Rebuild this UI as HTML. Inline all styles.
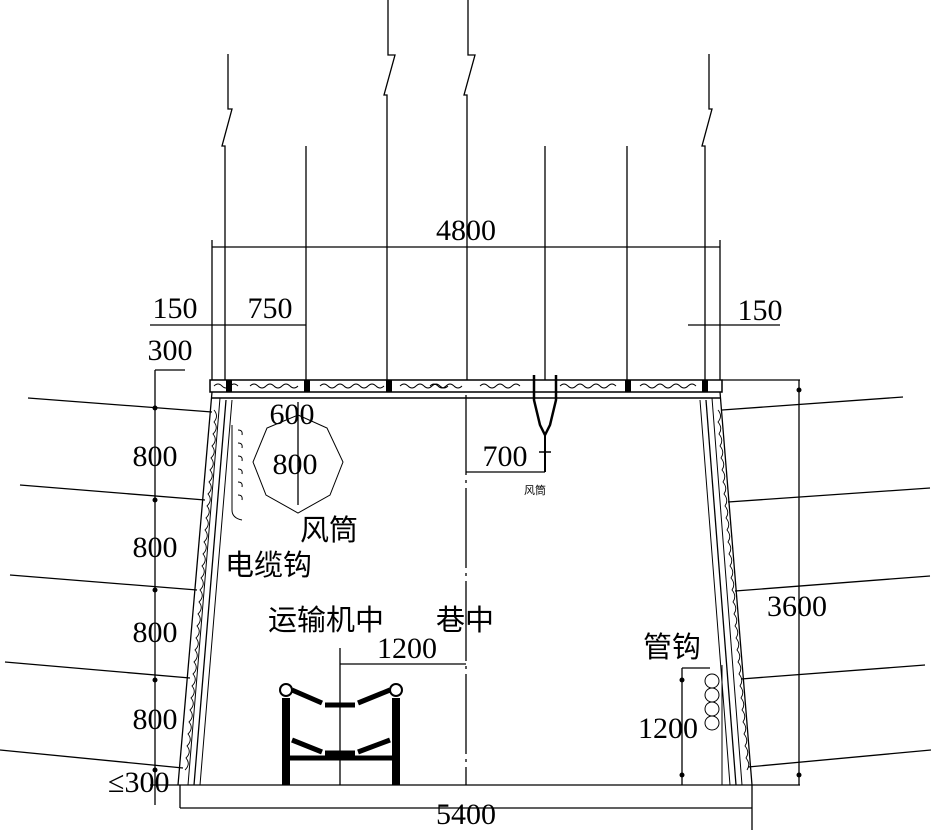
<!DOCTYPE html>
<html><head><meta charset="utf-8"><style>
html,body{margin:0;padding:0;background:#fff;}
svg{display:block;}
text{font-family:"Liberation Serif","Noto Serif CJK SC",serif;fill:#000;}
.cn{font-family:"Liberation Sans","Noto Sans CJK SC",sans-serif;}
</style></head><body>
<svg width="931" height="836" viewBox="0 0 931 836" xmlns="http://www.w3.org/2000/svg">
<g stroke="#000" stroke-width="1.3" fill="none">
<path d="M228 54 V109 h4 l-10 37 h3 V380"/>
<path d="M388 0 V55 h7 l-11 40 h3 V380"/>
<path d="M468 0 V55 h7 l-11 40 h3 V380"/>
<path d="M709 54 V109 h3 l-10 37 h3 V380"/>
<line x1="306" y1="146" x2="306" y2="380"/>
<line x1="545" y1="146" x2="545" y2="380"/>
<line x1="627" y1="146" x2="627" y2="380"/>
<rect x="210" y="380" width="512" height="12" stroke-width="1.5"/>
<line x1="216" y1="392" x2="716" y2="392" stroke-width="1"/>
<line x1="212" y1="398" x2="720" y2="398" stroke-width="1.5"/>
<path d="M214 386 q4 -4 8 0 q4 4 8 0 q4 -4 8 0 M250 386 q4 -4 8 0 q4 4 8 0 q4 -4 8 0 q4 4 8 0 q4 -4 8 0 q4 4 8 0 M320 386 q4 -4 8 0 q4 4 8 0 q4 -4 8 0 q4 4 8 0 q4 -4 8 0 q4 4 8 0 q4 -4 8 0 q4 4 8 0 M400 386 q4 -4 8 0 q4 4 8 0 q4 -4 8 0 q4 4 8 0 q4 -4 8 0 q4 4 8 0 M430 386 q4 -4 8 0 q4 4 8 0 q4 -4 8 0 q4 4 8 0 M480 386 q4 -4 8 0 q4 4 8 0 q4 -4 8 0 q4 4 8 0 q4 -4 8 0 M560 386 q4 -4 8 0 q4 4 8 0 q4 -4 8 0 q4 4 8 0 q4 -4 8 0 q4 4 8 0 q4 -4 8 0 M640 386 q4 -4 8 0 q4 4 8 0 q4 -4 8 0 q4 4 8 0 q4 -4 8 0 q4 4 8 0 q4 -4 8 0" stroke-width="0.9"/>
<path d="M212 392 L178 785"/>
<path d="M220 398 L188 785" stroke-width="1"/>
<path d="M226 400 L194 785"/>
<path d="M232 400 L200 785" stroke-width="1"/>
<path d="M214 410 q5 6 0 12 q5 6 -1 12 q5 6 -1 12 q5 6 -1 12 q5 6 -1 12 q5 6 -1 12 q5 6 -1 12 q5 6 -1 12 q5 6 -1 12 q5 6 -1 12 q5 6 -1 12 q5 6 -1 12 q5 6 -1 12 q5 6 -1 12 q5 6 -1 12 q5 6 -1 12 q5 6 -1 12 q5 6 -1 12 q5 6 -1 12 q5 6 -1 12 q5 6 -1 12 q5 6 -1 12 q5 6 -1 12 q5 6 -1 12 q5 6 -1 12 q5 6 -1 12 q5 6 -1 12 q5 6 -1 12 q5 6 -1 12 q5 6 -1 12" stroke-width="0.9"/>
<path d="M720 392 L752 785"/>
<path d="M712 398 L742 785" stroke-width="1"/>
<path d="M706 400 L736 785"/>
<path d="M700 400 L730 785" stroke-width="1"/>
<path d="M718 410 q5 6 0 12 q5 6 1 12 q5 6 1 12 q5 6 1 12 q5 6 1 12 q5 6 1 12 q5 6 1 12 q5 6 1 12 q5 6 1 12 q5 6 1 12 q5 6 1 12 q5 6 1 12 q5 6 1 12 q5 6 1 12 q5 6 1 12 q5 6 1 12 q5 6 1 12 q5 6 1 12 q5 6 1 12 q5 6 1 12 q5 6 1 12 q5 6 1 12 q5 6 1 12 q5 6 1 12 q5 6 1 12 q5 6 1 12 q5 6 1 12 q5 6 1 12 q5 6 1 12 q5 6 1 12" stroke-width="0.9"/>
<line x1="150" y1="785" x2="752" y2="785"/>
<line x1="28" y1="398" x2="212" y2="412"/>
<line x1="20" y1="485" x2="205" y2="500"/>
<line x1="10" y1="575" x2="197" y2="590"/>
<line x1="5" y1="662" x2="190" y2="678"/>
<line x1="0" y1="750" x2="183" y2="768"/>
<line x1="903" y1="397" x2="722" y2="410"/>
<line x1="930" y1="488" x2="728" y2="502"/>
<line x1="930" y1="576" x2="735" y2="591"/>
<line x1="925" y1="665" x2="741" y2="679"/>
<line x1="931" y1="750" x2="748" y2="767"/>
<line x1="155" y1="370" x2="155" y2="805"/>
<path d="M155 370 H185" />
<line x1="180" y1="785" x2="180" y2="808"/>
<line x1="180" y1="808" x2="752" y2="808"/>
<line x1="752" y1="785" x2="752" y2="830"/>
<line x1="722" y1="380" x2="800" y2="380"/>
<line x1="799" y1="380" x2="799" y2="785"/>
<line x1="752" y1="785" x2="800" y2="785"/>
<line x1="212" y1="247" x2="720" y2="247"/>
<line x1="212" y1="240" x2="212" y2="380"/>
<line x1="720" y1="240" x2="720" y2="380"/>
<line x1="150" y1="325" x2="306" y2="325"/>
<line x1="688" y1="325" x2="780" y2="325"/>
<line x1="466" y1="395" x2="466" y2="785" stroke-dasharray="80 5 3 5"/>
<line x1="466" y1="472" x2="545" y2="472"/>
<path d="M534 375 V400 l6 25 l5 10 l5 -10 l6 -25 V375" stroke-width="2.5"/>
<line x1="545" y1="435" x2="545" y2="472" stroke-width="2"/>
<line x1="539" y1="452" x2="551" y2="452" stroke-width="1.5"/>
<polygon points="298,415 327,428 343,462 330,495 298,513 266,495 253,462 267,428" stroke-width="1"/>
<line x1="298" y1="402" x2="298" y2="505"/>
<path d="M232 425 V510 q0 8 10 10" stroke-width="1"/>
<path d="M238 430 q5 0 4 5 M238 443 q5 0 4 5 M238 456 q5 0 4 5 M238 469 q5 0 4 5 M238 482 q5 0 4 5 M238 495 q5 0 4 5" stroke-width="1"/>
<line x1="340" y1="648" x2="340" y2="785"/>
<line x1="340" y1="664" x2="466" y2="664"/>
<path d="M286 698 V785 M396 698 V785" stroke-width="8"/>
<line x1="286" y1="758" x2="396" y2="758" stroke-width="5"/>
<path d="M292 690 L322 703 M325 705 H355 M358 703 L390 690" stroke-width="5"/>
<path d="M292 740 L322 752 M325 753 H355 M358 752 L390 740" stroke-width="5"/>
<circle cx="286" cy="690" r="6" fill="#fff" stroke-width="2"/>
<circle cx="396" cy="690" r="6" fill="#fff" stroke-width="2"/>
<line x1="682" y1="668" x2="682" y2="785"/>
<line x1="682" y1="668" x2="710" y2="668"/>
<circle cx="712" cy="681" r="7" stroke-width="1"/>
<circle cx="712" cy="695" r="7" stroke-width="1"/>
<circle cx="712" cy="709" r="7" stroke-width="1"/>
<circle cx="712" cy="723" r="7" stroke-width="1"/>
<path d="M722 665 V785" stroke-width="1"/>
</g>
<g fill="#000">
<circle cx="155" cy="408" r="2.5"/><circle cx="155" cy="500" r="2.5"/><circle cx="155" cy="590" r="2.5"/><circle cx="155" cy="680" r="2.5"/><circle cx="155" cy="770" r="2.5"/>
<circle cx="799" cy="390" r="2.5"/><circle cx="799" cy="775" r="2.5"/>
<circle cx="682" cy="680" r="2.5"/><circle cx="682" cy="775" r="2.5"/>
<rect x="226" y="380" width="6" height="12"/><rect x="304" y="380" width="6" height="12"/><rect x="386" y="380" width="6" height="12"/><rect x="625" y="380" width="6" height="12"/><rect x="702" y="380" width="6" height="12"/>
</g>
<g font-size="30">
<text x="466" y="240" text-anchor="middle">4800</text>
<text x="175" y="318" text-anchor="middle">150</text>
<text x="270" y="318" text-anchor="middle">750</text>
<text x="760" y="320" text-anchor="middle">150</text>
<text x="170" y="360" text-anchor="middle">300</text>
<text x="292" y="424" text-anchor="middle">600</text>
<text x="295" y="474" text-anchor="middle">800</text>
<text x="505" y="466" text-anchor="middle">700</text>
<text x="155" y="466" text-anchor="middle">800</text>
<text x="155" y="557" text-anchor="middle">800</text>
<text x="155" y="642" text-anchor="middle">800</text>
<text x="155" y="729" text-anchor="middle">800</text>
<text x="108" y="792">≤300</text>
<text x="407" y="658" text-anchor="middle">1200</text>
<text x="668" y="738" text-anchor="middle">1200</text>
<text x="797" y="616" text-anchor="middle">3600</text>
<text x="466" y="824" text-anchor="middle">5400</text>
</g>
<g font-size="29" class="cn">
<text x="300" y="540" class="cn">风筒</text>
<text x="225" y="575" class="cn">电缆钩</text>
<text x="268" y="630" class="cn">运输机中</text>
<text x="436" y="630" class="cn">巷中</text>
<text x="643" y="657" class="cn">管钩</text>
<text x="524" y="494" font-size="11" class="cn">风筒</text>
</g>
</svg>
</body></html>
